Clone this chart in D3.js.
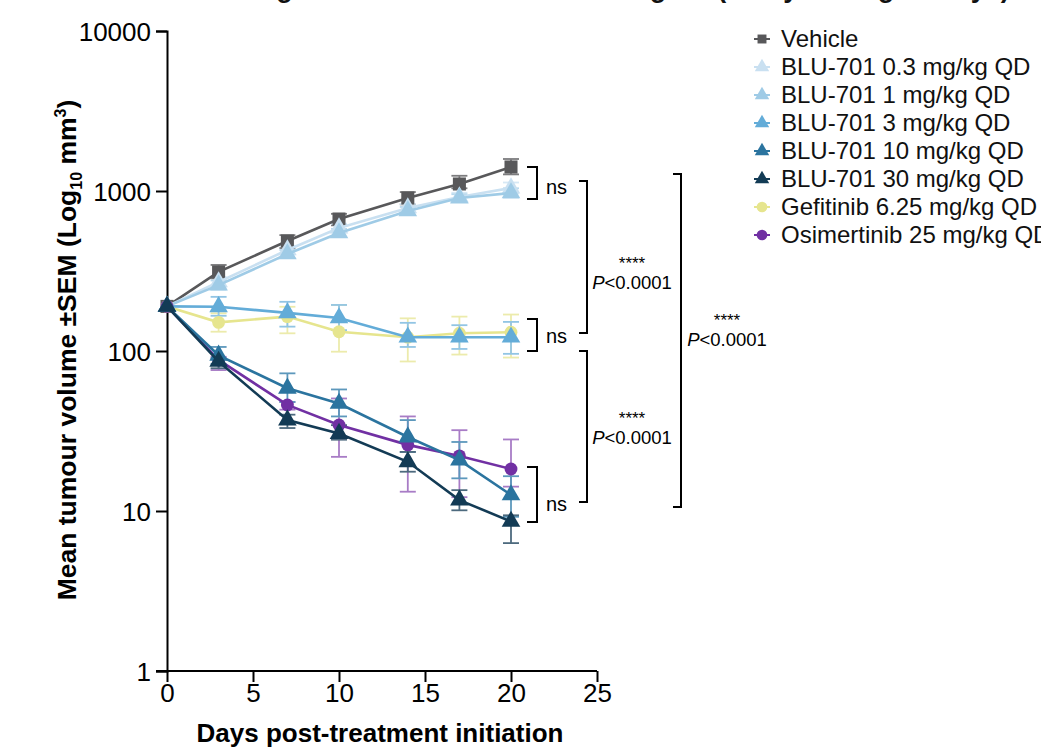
<!DOCTYPE html>
<html>
<head>
<meta charset="utf-8">
<script src="https://cdn.jsdelivr.net/npm/d3@7"></script>
<style>
  body { margin: 0; background: #fff; }
  text { font-family: "Liberation Sans", Arial, sans-serif; }
</style>
</head>
<body>
<div id="chart"></div>
<script>
// days of measurement
const days = [0, 3, 7, 10, 14, 17, 20];

// mean tumour volume (mm3) per group
const vehicle = [190, 312, 487, 668, 904, 1106, 1413];
const blu03 = [190, 270, 428, 587, 783, 917, 1044];
const blu1 = [190, 258, 404, 547, 750, 904, 972];
const blu3 = [190, 189, 173, 161, 122, 122, 122];
const blu10 = [190, 94, 58.5, 47, 29, 20.8, 12.6];
const blu30 = [190, 86, 37, 30.5, 20.3, 11.7, 8.6];
const gefitinib = [190, 151, 164, 132, 122, 129, 131];
const osimertinib = [190, 88, 46, 34.5, 25.9, 22.1, 18.3];

// SEM bar ends (upper, lower)
const vehicleHi = [200, 345, 530, 720, 985, 1245, 1585];
const vehicleLo = [182, 284, 440, 610, 825, 1040, 1270];
const blu03Hi = [198, 290, 455, 625, 830, 975, 1130];
const blu03Lo = [182, 252, 402, 552, 740, 862, 965];
const blu1Hi = [198, 276, 428, 580, 795, 955, 1040];
const blu1Lo = [182, 242, 382, 516, 710, 855, 910];
const blu3Hi = [198, 218, 203, 194, 150, 145, 152];
const blu3Lo = [182, 166, 142, 135, 106, 103, 96];
const blu10Hi = [198, 106, 72.5, 57.5, 37, 27, 16.5];
const blu10Lo = [182, 83, 48, 39, 23.4, 16, 9.2];
const blu30Hi = [198, 90, 40, 34.4, 23.4, 13.5, 9.4];
const blu30Lo = [182, 78, 33, 27.9, 17.6, 10.1, 6.3];
const gefitinibHi = [198, 172, 189, 194, 160, 164, 169];
const gefitinibLo = [182, 132, 129, 99, 86, 95, 91];
const osimertinibHi = [198, 92, 48, 50.5, 39, 32, 28];
const osimertinibLo = [182, 76, 43, 21.8, 13.2, 12.2, 14.2];

const groupNames = [
  "Vehicle",
  "BLU-701 0.3 mg/kg QD",
  "BLU-701 1 mg/kg QD",
  "BLU-701 3 mg/kg QD",
  "BLU-701 10 mg/kg QD",
  "BLU-701 30 mg/kg QD",
  "Gefitinib 6.25 mg/kg QD",
  "Osimertinib 25 mg/kg QD",
];

const xTicks = [0, 5, 10, 15, 20, 25];
const yTicks = [1, 10, 100, 1000, 10000];

const groups = [
  { name: groupNames[0], values: vehicle, hi: vehicleHi, lo: vehicleLo, color: "#58585a", err: "#7c7c7e", shape: d3.symbolSquare },
  { name: groupNames[1], values: blu03, hi: blu03Hi, lo: blu03Lo, color: "#c9e0f1", err: "#d6e8f5", shape: d3.symbolTriangle },
  { name: groupNames[2], values: blu1, hi: blu1Hi, lo: blu1Lo, color: "#9fcbe6", err: "#b8d8ed", shape: d3.symbolTriangle },
  { name: groupNames[6], values: gefitinib, hi: gefitinibHi, lo: gefitinibLo, color: "#e6e58e", err: "#ecebac", shape: d3.symbolCircle },
  { name: groupNames[3], values: blu3, hi: blu3Hi, lo: blu3Lo, color: "#63acd8", err: "#92c5e4", shape: d3.symbolTriangle },
  { name: groupNames[7], values: osimertinib, hi: osimertinibHi, lo: osimertinibLo, color: "#7130a3", err: "#a87cc6", shape: d3.symbolCircle },
  { name: groupNames[4], values: blu10, hi: blu10Hi, lo: blu10Lo, color: "#2b749f", err: "#5d98bc", shape: d3.symbolTriangle },
  { name: groupNames[5], values: blu30, hi: blu30Hi, lo: blu30Lo, color: "#133b55", err: "#4d6a7e", shape: d3.symbolTriangle },
];

const width = 1041, height = 748;
const svg = d3.select("#chart").append("svg")
  .attr("width", width).attr("height", height);

const x = d3.scaleLinear().domain([0, 25]).range([167, 597]);
const y = d3.scaleLog().domain([1, 10000]).range([671, 31]);

// title, cut off at the top of the picture (only descenders show)
svg.append("text")
  .attr("x", 590).attr("y", -3)
  .attr("text-anchor", "middle")
  .attr("font-size", 27).attr("font-weight", "bold")
  .attr("fill", "#111")
  .text("Tumour growth in EGFR-mutant xenograft (study dosing 21 days)");

// axes
const yAxis = svg.append("g")
  .attr("transform", "translate(167,0)")
  .call(d3.axisLeft(y).tickValues(yTicks).tickFormat(d3.format("d")).tickSize(11).tickPadding(5));
const xAxis = svg.append("g")
  .attr("transform", "translate(0,671)")
  .call(d3.axisBottom(x).tickValues(xTicks).tickSize(11).tickPadding(2));

[xAxis, yAxis].forEach(g => {
  g.select(".domain").attr("stroke", "#000").attr("stroke-width", 2);
  g.selectAll(".tick line").attr("stroke", "#000").attr("stroke-width", 2);
  g.selectAll(".tick text").attr("font-size", 26).attr("fill", "#000")
    .style("font-family", "'Liberation Sans', Arial, sans-serif");
});
yAxis.selectAll(".tick text").attr("dy", "0.36em");
xAxis.select(".domain").attr("d", "M156,0H597");

svg.append("text")
  .attr("x", 380).attr("y", 742)
  .attr("text-anchor", "middle")
  .attr("font-size", 26).attr("font-weight", "bold")
  .text("Days post-treatment initiation");

const yTitle = svg.append("text")
  .attr("transform", "translate(76,350) rotate(-90)")
  .attr("text-anchor", "middle")
  .attr("font-size", 26.5).attr("font-weight", "bold");
yTitle.append("tspan").text("Mean tumour volume \u00b1SEM (Log");
yTitle.append("tspan").attr("font-size", 16).attr("dy", 6).text("10");
yTitle.append("tspan").attr("dy", -6).text(" mm");
yTitle.append("tspan").attr("font-size", 16).attr("dy", -10).text("3");
yTitle.append("tspan").attr("dy", 10).text(")");

// series
const line = d3.line().x((d, i) => x(days[i])).y(d => y(d));
const capW = 8;

groups.forEach(g => {
  const eg = svg.append("g");
  days.forEach((dd, i) => {
    if (i === 0) return;
    const cx = x(dd);
    eg.append("line").attr("x1", cx).attr("x2", cx)
      .attr("y1", y(g.hi[i])).attr("y2", y(g.lo[i]))
      .attr("stroke", g.err).attr("stroke-width", 1.8);
    [g.hi[i], g.lo[i]].forEach(v => {
      eg.append("line").attr("x1", cx - capW).attr("x2", cx + capW)
        .attr("y1", y(v)).attr("y2", y(v))
        .attr("stroke", g.err).attr("stroke-width", 1.8);
    });
  });
});

groups.forEach(g => {
  svg.append("path").datum(g.values)
    .attr("d", line)
    .attr("fill", "none")
    .attr("stroke", g.color)
    .attr("stroke-width", 2.6);
  const size = g.shape === d3.symbolSquare ? 170 : g.shape === d3.symbolCircle ? 130 : 150;
  svg.append("g").selectAll("path")
    .data(g.values)
    .enter().append("path")
    .attr("transform", (d, i) => `translate(${x(days[i])},${y(d)})`)
    .attr("d", d3.symbol().type(g.shape).size(size))
    .attr("fill", g.color);
});

// significance brackets
const brackets = [
  { x: 537, top: 167, bottom: 199, tick: 10 },
  { x: 537, top: 319, bottom: 351, tick: 10 },
  { x: 537, top: 467, bottom: 522, tick: 10 },
  { x: 587, top: 181, bottom: 333, tick: 8 },
  { x: 587, top: 351, bottom: 502, tick: 8 },
  { x: 681, top: 174, bottom: 507, tick: 8 },
];
brackets.forEach(b => {
  svg.append("path")
    .attr("d", `M${b.x - b.tick},${b.top}H${b.x}V${b.bottom}H${b.x - b.tick}`)
    .attr("fill", "none").attr("stroke", "#000").attr("stroke-width", 2);
});

[187, 336, 504].forEach(yy => {
  svg.append("text").attr("x", 546).attr("y", yy + 7)
    .attr("font-size", 20).text("ns");
});

[{ x: 632, y: 263 }, { x: 632, y: 418 }, { x: 727, y: 320 }].forEach(p => {
  svg.append("text").attr("x", p.x).attr("y", p.y + 6)
    .attr("text-anchor", "middle").attr("font-size", 17).text("****");
  const t = svg.append("text").attr("x", p.x).attr("y", p.y + 26)
    .attr("text-anchor", "middle").attr("font-size", 18.5);
  t.append("tspan").attr("font-style", "italic").text("P");
  t.append("tspan").text("<0.0001");
});

// legend
const legendOrder = [0, 1, 2, 4, 6, 7, 3, 5];
const legend = svg.append("g").attr("transform", "translate(762,39)");
legendOrder.forEach((gi, row) => {
  const g = groups[gi];
  const ly = row * 28;
  legend.append("line").attr("x1", -8).attr("x2", 8).attr("y1", ly).attr("y2", ly)
    .attr("stroke", g.color).attr("stroke-width", 2);
  legend.append("path")
    .attr("transform", `translate(0,${ly})`)
    .attr("d", d3.symbol().type(g.shape).size(g.shape === d3.symbolSquare ? 80 : 90))
    .attr("fill", g.color);
  legend.append("text").attr("x", 19).attr("y", ly + 8)
    .attr("font-size", 24).attr("fill", "#111").text(g.name);
});
</script>
</body>
</html>
